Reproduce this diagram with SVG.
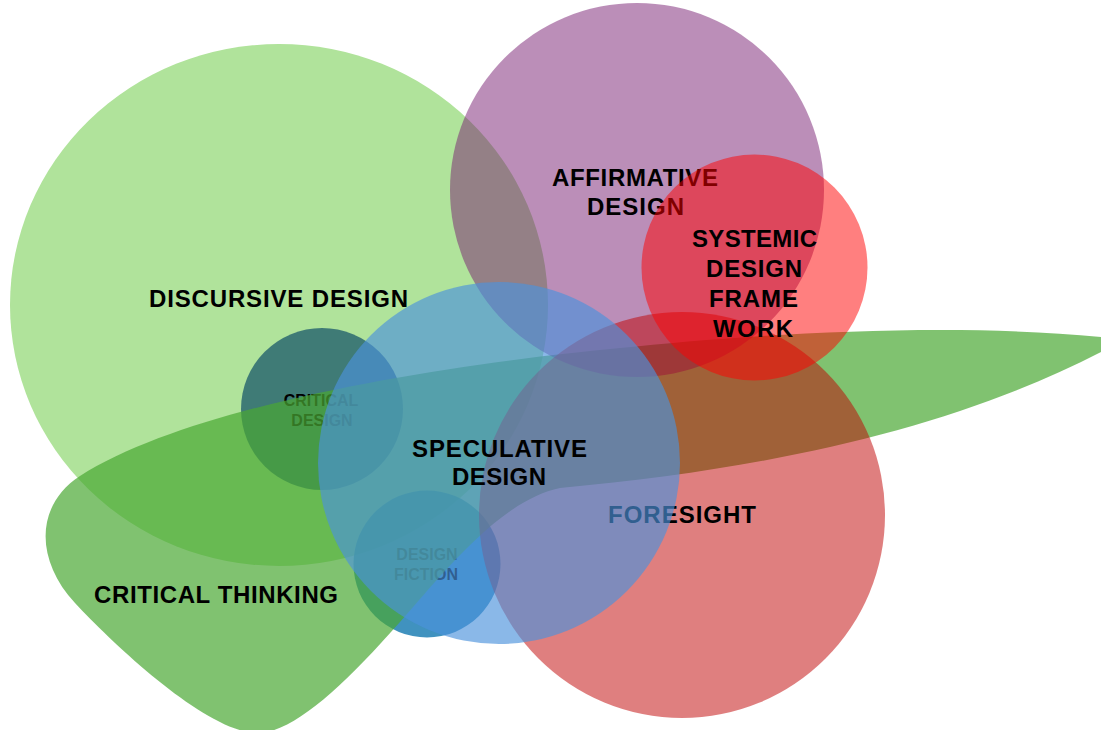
<svg xmlns="http://www.w3.org/2000/svg" width="1101" height="730" viewBox="0 0 1101 730">
  <style>
    .lbl { font-family: "Liberation Sans", Arial, sans-serif; font-weight: bold; font-size: 24px; fill: #000; }
    .sm { font-family: "Liberation Sans", Arial, sans-serif; font-weight: bold; font-size: 16px; fill: #000; text-anchor: middle; }
  </style>
  <rect width="1101" height="730" fill="#ffffff"/>

  <!-- Discursive design: base field -->
  <g id="discursive-design">
    <ellipse cx="279" cy="305" rx="269" ry="261" fill="#b0e39b"/>
    <text class="lbl" x="149" y="307" textLength="259" lengthAdjust="spacing">DISCURSIVE DESIGN</text>
  </g>

  <!-- Critical design -->
  <g id="critical-design">
    <circle cx="322" cy="409" r="81" fill="#0f4e66" fill-opacity="0.7"/>
    <text class="sm" x="321" y="406">CRITICAL</text>
    <text class="sm" x="322" y="426">DESIGN</text>
  </g>

  <!-- Design fiction -->
  <g id="design-fiction">
    <circle cx="427" cy="564" r="73.5" fill="#006eaa" fill-opacity="0.75"/>
    <text class="sm" x="427" y="560">DESIGN</text>
    <text class="sm" x="426" y="580">FICTION</text>
  </g>

  <!-- Critical thinking: lobe with a long tail to the right -->
  <g id="critical-thinking">
    <path d="M1101 337 C950 322 750 334 620 348 C470 362 200 400 80 476 C35 505 35 560 75 603 C115 646 205 730 255 733 C290 735 340 690 400 622 C440 577 500 500 560 488 C780 468 960 425 1101 352 C1112 346 1112 340 1101 337 Z" fill="#4aa833" fill-opacity="0.7"/>
    <text class="lbl" x="94" y="603" textLength="244" lengthAdjust="spacing">CRITICAL THINKING</text>
  </g>

  <!-- Affirmative design -->
  <g id="affirmative-design">
    <circle cx="637" cy="190" r="187" fill="#771d71" fill-opacity="0.5"/>
    <text class="lbl" x="552" y="186" textLength="166" lengthAdjust="spacing">AFFIRMATIVE</text>
    <text class="lbl" x="587" y="215" textLength="97" lengthAdjust="spacing">DESIGN</text>
  </g>

  <!-- Foresight -->
  <g id="foresight">
    <circle cx="682" cy="515" r="203" fill="#c00000" fill-opacity="0.5"/>
    <text class="lbl" x="608" y="523" textLength="148" lengthAdjust="spacing">FORESIGHT</text>
  </g>

  <!-- Systemic design framework -->
  <g id="systemic-design-framework">
    <circle cx="754.5" cy="267.5" r="113" fill="#ff0000" fill-opacity="0.5"/>
    <text class="lbl" x="692" y="247" textLength="125" lengthAdjust="spacing">SYSTEMIC</text>
    <text class="lbl" x="706" y="277" textLength="96" lengthAdjust="spacing">DESIGN</text>
    <text class="lbl" x="709" y="307" textLength="89" lengthAdjust="spacing">FRAME</text>
    <text class="lbl" x="713" y="337" textLength="80" lengthAdjust="spacing">WORK</text>
  </g>

  <!-- Speculative design -->
  <g id="speculative-design">
    <circle cx="499" cy="463" r="181" fill="#4b92dc" fill-opacity="0.65"/>
    <text class="lbl" x="412" y="457" textLength="175" lengthAdjust="spacing">SPECULATIVE</text>
    <text class="lbl" x="452" y="485" textLength="94" lengthAdjust="spacing">DESIGN</text>
  </g>

  <g id="connectors"/>
</svg>
